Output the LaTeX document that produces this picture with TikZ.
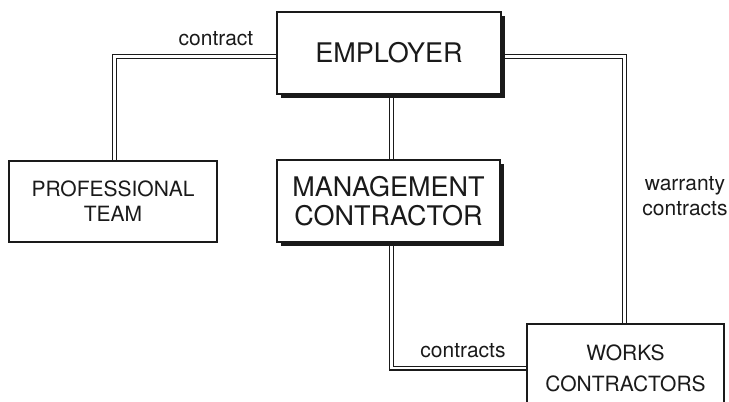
\documentclass[tikz,border=0pt]{standalone}
\usepackage{fontspec}
\setmainfont{TeX Gyre Heros}
\usetikzlibrary{shadows,backgrounds}
\definecolor{ink}{HTML}{1A1A1A}
\begin{document}
\begin{tikzpicture}[x=1pt,y=-1pt,
  box/.style={draw=ink, line width=1.1pt, fill=white, inner sep=0pt, align=center, text=ink},
  shadowbox/.style={box, general shadow={fill=ink, shadow xshift=4pt, shadow yshift=-4pt}},
  link/.style={draw=ink, line width=1.1pt, double=white, double distance=2.8pt},
  lbl/.style={font=\fontsize{21}{25}\selectfont, text=ink, inner sep=0pt},
  big/.style={font=\fontsize{27}{30}\selectfont},
  small/.style={font=\fontsize{21}{31}\selectfont}]
\useasboundingbox (0,0) rectangle (729,402);
\node[shadowbox,big,minimum width=224pt,minimum height=82pt] (emp) at (389,53) {EMPLOYER};
\node[shadowbox,font=\fontsize{27}{29}\selectfont,minimum width=223pt,minimum height=82pt] (mc) at (388.5,201) {MANAGEMENT\\CONTRACTOR};
\node[box,font=\fontsize{21}{25}\selectfont,minimum width=208pt,minimum height=81pt] (pt) at (113,201.5) {PROFESSIONAL\\TEAM};
\node[box,small,minimum width=197pt,minimum height=88pt] (wc) at (625.5,368) {WORKS\\CONTRACTORS};
\begin{pgfonlayer}{background}
\draw[link] ([yshift=-3.5pt]emp.west) -| ([xshift=1.5pt]pt.north);
\draw[link] ([yshift=-3.5pt]emp.east) -| ([xshift=-1pt]wc.north);
\draw[link] ([xshift=2.5pt]emp.south) -- ([xshift=2.5pt]emp.south |- mc.north);
\draw[link] ([xshift=2.5pt]emp.south |- mc.south) |- (wc.west);
\end{pgfonlayer}
\node[lbl] (l1) at (216,39) {contract};
\node[lbl] (l2) at (463,351) {contracts};
\node[lbl,align=center] (l3) at (685,196) {warranty\\contracts};
\end{tikzpicture}
\end{document}
